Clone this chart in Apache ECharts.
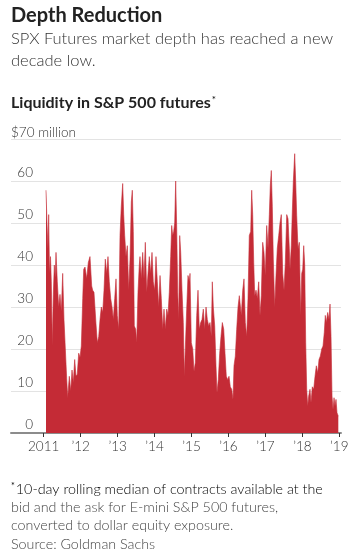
<!DOCTYPE html>
<html>
<head>
<meta charset="utf-8">
<script src="https://cdn.jsdelivr.net/npm/echarts@6/dist/echarts.min.js"></script>
<style>
html,body{margin:0;padding:0;background:#fff;}
#chart{width:357px;height:555px;}
</style>
</head>
<body>
<div id="chart"></div>
<script>
// Decimal-year dates of the samples
const dates = [
2011.062,2011.089,2011.116,2011.135,2011.157,2011.184,2011.206,2011.233,2011.260,2011.287,
2011.311,2011.333,2011.368,2011.406,2011.441,2011.476,2011.514,2011.549,2011.585,2011.622,
2011.650,2011.693,2011.731,2011.766,2011.801,2011.839,2011.874,2011.909,2011.947,2011.982,
2012.018,2012.056,2012.083,2012.118,2012.164,2012.207,2012.253,2012.299,2012.326,2012.361,
2012.415,2012.451,2012.489,2012.524,2012.559,2012.597,2012.632,2012.667,2012.705,2012.740,
2012.775,2012.813,2012.849,2012.884,2012.922,2012.957,2012.992,2013.030,2013.065,2013.100,
2013.138,2013.165,2013.192,2013.227,2013.263,2013.300,2013.336,2013.371,2013.398,2013.425,
2013.452,2013.490,2013.517,2013.552,2013.587,2013.606,2013.641,2013.679,2013.715,2013.750,
2013.788,2013.823,2013.858,2013.896,2013.931,2013.966,2014.004,2014.039,2014.075,2014.112,
2014.148,2014.183,2014.221,2014.256,2014.291,2014.329,2014.364,2014.399,2014.437,2014.464,
2014.491,2014.518,2014.545,2014.572,2014.600,2014.627,2014.654,2014.681,2014.708,2014.743,
2014.778,2014.805,2014.832,2014.870,2014.905,2014.941,2014.960,2014.995,2015.033,2015.068,
2015.103,2015.141,2015.176,2015.211,2015.249,2015.284,2015.320,2015.357,2015.393,2015.428,
2015.466,2015.501,2015.536,2015.563,2015.590,2015.628,2015.663,2015.690,2015.725,2015.763,
2015.798,2015.834,2015.872,2015.907,2015.942,2015.980,2016.015,2016.050,2016.088,2016.123,
2016.150,2016.186,2016.223,2016.259,2016.294,2016.313,2016.348,2016.386,2016.421,2016.456,
2016.494,2016.529,2016.564,2016.602,2016.629,2016.656,2016.684,2016.711,2016.746,2016.781,
2016.819,2016.854,2016.889,2016.927,2016.962,2016.997,2017.035,2017.071,2017.106,2017.133,
2017.160,2017.187,2017.214,2017.252,2017.287,2017.322,2017.360,2017.395,2017.430,2017.468,
2017.504,2017.539,2017.577,2017.612,2017.647,2017.666,2017.701,2017.728,2017.755,2017.793,
2017.820,2017.847,2017.883,2017.918,2017.956,2017.983,2018.010,2018.037,2018.064,2018.091,
2018.118,2018.145,2018.172,2018.207,2018.234,2018.270,2018.307,2018.343,2018.378,2018.416,
2018.451,2018.486,2018.524,2018.559,2018.594,2018.621,2018.648,2018.686,2018.722,2018.749,
2018.776,2018.803,2018.830,2018.857,2018.884,2018.911,2018.938,2018.973
];
// Liquidity, $ million
const liquidity = [
57.8,50,44,52,38,42,36,20.7,33,40,
37,43,36,30,33,29,38,27,27,13,
8.4,13.5,10,15,12,17.5,13.5,14,19,18,
20.7,32,39,39.5,36.7,40.6,42,35,34,33.5,
26,21.5,23,27,30,28.7,34,41.4,38,42,
36,32,30,27,32,36.7,28,24.7,47,54,
59.4,52,47,42,44.6,34,41.4,55,57.8,48,
25.5,24.7,21.5,33.5,40,42,36.7,43,36.7,45.4,
33.5,38,42,38,43,36,34,42,36,30,
37.5,32,24.7,29.5,24.7,29.5,28,33.5,42,49.4,
47,48,50,60,48.6,33.5,27,47,43,34,
26.3,13.5,20,29.5,37.5,36,38,21.5,20,14.7,
16.7,28,34,24.7,26.3,27,29.5,24.7,30,27,
25.5,26.3,23,36,30,25.5,16,9.6,12.7,19,
23,26.3,24.7,19,13.5,12.7,13.5,11,10.4,8,
16,18.3,24.7,30,32.7,31,28,34,36.7,26.3,
23,32,47,48,57.8,52,40.6,32.7,34,32,
36,28,32.7,45.4,43,37.5,49.4,44,52,59,
62.5,54,41.4,30,37.5,44,47,50,52,38,
34,40.6,52,51,44,39,44.6,52.6,59.8,66.5,
59.8,51.8,43.8,45.4,28,38,39,44.6,40,21.5,
10.4,6.4,8.8,10.4,7.2,11,10.4,13.5,16,14.3,
17.5,18.3,20,20.7,24,28,26.3,28.7,27,30.7,
23,8.8,5.6,8.4,6.4,8,4.8,4
];
const xTickYears = [2011, 2012, 2013, 2014, 2015, 2016, 2017, 2018, 2019];
const xTickLabels = ['2011', '\u201912', '\u201913', '\u201914', '\u201915', '\u201916', '\u201917', '\u201918', '\u201919'];
const yTickValues = [0, 10, 20, 30, 40, 50, 60];
const yTopLabel = '$70 million';

const FONT = 'Lato, "Noto Sans", sans-serif';
const chart = echarts.init(document.getElementById('chart'), null, {renderer: 'canvas'});
chart.setOption({
  animation: false,
  backgroundColor: '#fff',
  grid: {left: 11, right: 16, top: 139, bottom: 122, containLabel: false},
  xAxis: {
    type: 'value', min: 2010.115, max: 2019.046,
    splitLine: {show: false},
    axisLine: {show: true, onZero: false, lineStyle: {color: '#8c8c8c', width: 2}},
    axisTick: {show: true, customValues: xTickYears, length: 4, lineStyle: {color: '#333', width: 1}},
    axisLabel: {
      customValues: xTickYears, margin: 7, fontFamily: FONT, fontWeight: 300, fontSize: 13.5, color: '#333',
      formatter: v => { const i = xTickYears.indexOf(Math.round(v)); return i >= 0 ? xTickLabels[i] : ''; }
    }
  },
  yAxis: {
    type: 'value', min: 0, max: 70, interval: 10,
    axisLine: {show: false}, axisTick: {show: false},
    splitLine: {show: true, lineStyle: {color: '#e3e3e3', width: 1}},
    axisLabel: {
      inside: true, customValues: yTickValues, align: 'right', verticalAlign: 'bottom', margin: 22,
      fontFamily: FONT, fontWeight: 300, fontSize: 13.5, color: '#333', padding: [0, 0, 1, 0]
    }
  },
  series: [{
    type: 'line',
    data: dates.map((d, i) => [d, liquidity[i]]),
    showSymbol: false, symbol: 'none',
    lineStyle: {width: 0.6, color: '#c42b36'},
    areaStyle: {color: '#c42b36', opacity: 1},
    z: 1
  }],
  graphic: [
    {type: 'text', x: 11, y: 16, style: {text: 'Depth Reduction', font: 'bold 20px ' + FONT, fill: '#222', verticalAlign: 'middle'}},
    {type: 'text', x: 11, y: 39, style: {text: 'SPX Futures market depth has reached a new', font: '300 16.5px ' + FONT, fill: '#333', verticalAlign: 'middle'}},
    {type: 'text', x: 11, y: 61, style: {text: 'decade low.', font: '300 16.5px ' + FONT, fill: '#333', verticalAlign: 'middle'}},
    {type: 'text', x: 11, y: 103, style: {
      text: '{b|Liquidity in S&P 500 futures}{s|*}', verticalAlign: 'middle',
      rich: {b: {font: 'bold 16px ' + FONT, fill: '#222', color: '#222'}, s: {font: '10px ' + FONT, color: '#888', verticalAlign: 'top', padding: [0, 0, 6, 1]}}
    }},
    {type: 'text', x: 11, y: 133, style: {text: yTopLabel, font: '300 13.5px ' + FONT, fill: '#333', verticalAlign: 'middle'}},
    {type: 'text', x: 11, y: 489, style: {
      text: '{s|*}{t|10-day rolling median of contracts available at the}', verticalAlign: 'middle',
      rich: {t: {font: '300 14.3px ' + FONT, color: '#444'}, s: {font: '9px ' + FONT, color: '#777', padding: [0, 1, 5, 0]}}
    }},
    {type: 'text', x: 11, y: 507, style: {text: 'bid and the ask for E-mini S&P 500 futures,', font: '300 14.3px ' + FONT, fill: '#444', verticalAlign: 'middle'}},
    {type: 'text', x: 11, y: 525, style: {text: 'converted to dollar equity exposure.', font: '300 14.3px ' + FONT, fill: '#444', verticalAlign: 'middle'}},
    {type: 'text', x: 11, y: 544, style: {text: 'Source: Goldman Sachs', font: '300 14.3px ' + FONT, fill: '#444', verticalAlign: 'middle'}}
  ]
});
</script>
</body>
</html>
